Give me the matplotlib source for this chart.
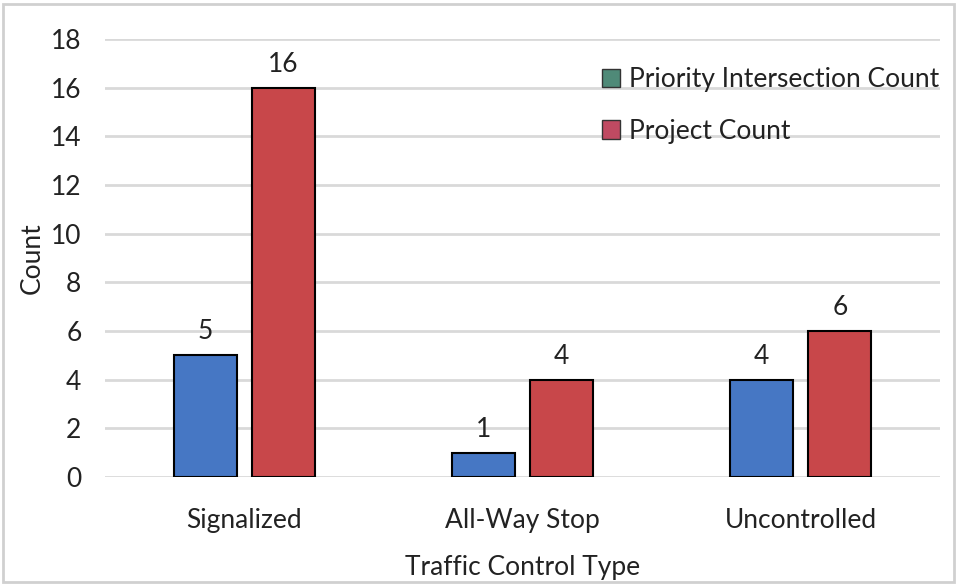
import numpy as np
import matplotlib.pyplot as plt
from matplotlib.patches import Patch

categories = ["Signalized", "All-Way Stop", "Uncontrolled"]
priority_counts = [5, 1, 4]
project_counts = [16, 4, 6]
yticks = [0, 2, 4, 6, 8, 10, 12, 14, 16, 18]

plt.rcParams['font.family'] = ['Lato', 'DejaVu Sans']
fs = 19

fig = plt.figure(figsize=(9.57, 5.84), dpi=100)
ax = fig.add_axes([105 / 957, 1 - 477 / 584, 835 / 957, 438 / 584])

x = np.arange(len(categories))
w = 0.227
off = 0.14
b1 = ax.bar(x - off, priority_counts, w, color="#4677c4", edgecolor="black", linewidth=1.5, zorder=3)
b2 = ax.bar(x + off, project_counts, w, color="#c8474a", edgecolor="black", linewidth=1.5, zorder=3)

for bars, vals in ((b1, priority_counts), (b2, project_counts)):
    for r, v in zip(bars, vals):
        ax.text(r.get_x() + r.get_width() / 2, v + 0.45, str(v), ha="center", va="bottom",
                fontsize=fs, color="#222222")

ax.set_xlim(-0.5, 2.5)
ax.set_ylim(0, 18)
ax.set_yticks(yticks)
ax.set_xticks(x)
ax.set_xticklabels(categories)
ax.tick_params(axis="both", length=0, labelsize=fs, colors="#222222")
ax.tick_params(axis="y", pad=17)
ax.tick_params(axis="x", pad=22)
ax.yaxis.grid(True, color="#d9d9d9", linewidth=2, zorder=0)
for s in ax.spines.values():
    s.set_visible(False)

ax.set_ylabel("Count", fontsize=fs, color="#222222")
ax.yaxis.set_label_coords(-0.072, 0.5)
ax.set_xlabel("Traffic Control Type", fontsize=fs, color="#222222", labelpad=16)

handles = [Patch(facecolor="#4f8a78", edgecolor="#333333"),
           Patch(facecolor="#c04a62", edgecolor="#333333")]
ax.legend(handles, ["Priority Intersection Count", "Project Count"], loc="upper right",
          bbox_to_anchor=(1.028, 0.99), frameon=False, fontsize=fs, labelspacing=1.0,
          handlelength=0.7, handleheight=0.7, handletextpad=0.35, labelcolor="#222222")

fig.patches.append(plt.Rectangle((0.003, 0.004), 0.994, 0.99, transform=fig.transFigure,
                                 fill=False, edgecolor="#d0d0d0", linewidth=2))

fig.savefig("out.png", dpi=100)
